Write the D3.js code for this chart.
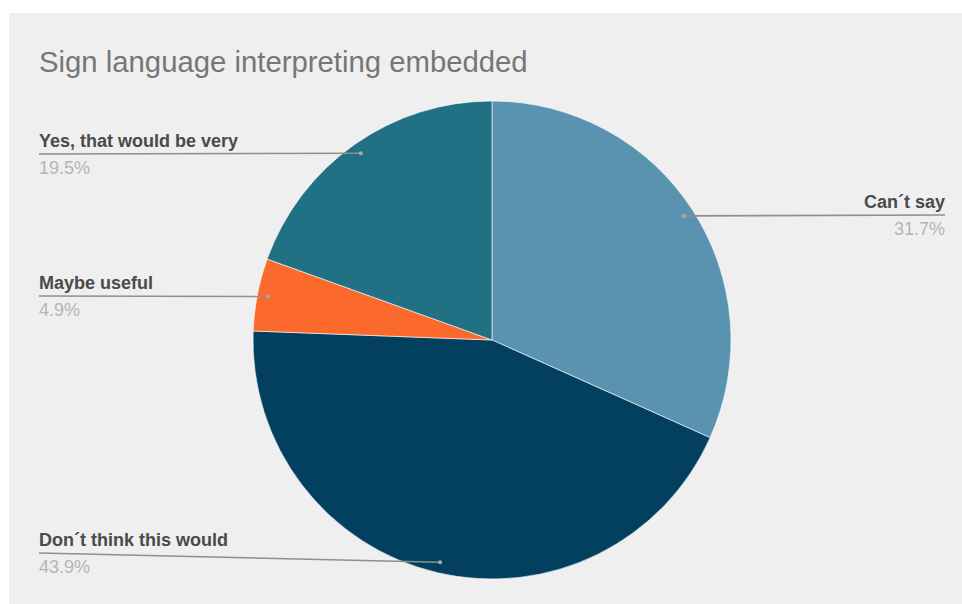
<!DOCTYPE html>
<html>
<head>
<meta charset="utf-8">
<script src="https://cdn.jsdelivr.net/npm/d3@7"></script>
<style>
  html, body { margin: 0; padding: 0; background: #ffffff; }
  svg { display: block; }
  text { font-family: Arial, "Liberation Sans", sans-serif; }
</style>
</head>
<body>
<svg id="chart" width="962" height="604"></svg>
<script>
// Survey answers, clockwise from 12 o'clock
const categories = ["Can\u00b4t say", "Don\u00b4t think this would", "Maybe useful", "Yes, that would be very"];
const shares = [31.7, 43.9, 4.9, 19.5];
const percentLabels = ["31.7%", "43.9%", "4.9%", "19.5%"];
const sliceColors = ["#5a93b0", "#03405f", "#fb6a2c", "#1f7183"];

const W = 962, H = 604;
const cx = 492, cy = 340, R = 239;

const svg = d3.select("#chart");

// panel background with a thin white margin at top/left
svg.append("rect").attr("x", 9).attr("y", 13).attr("width", W - 9).attr("height", H - 13).attr("fill", "#efefef");

svg.append("text")
  .attr("x", 39).attr("y", 72)
  .attr("font-size", 29.3)
  .attr("fill", "#767676")
  .text("Sign language interpreting embedded");

const data = categories.map((c, i) => ({ name: c, value: shares[i], label: percentLabels[i], color: sliceColors[i] }));

const pie = d3.pie().value(d => d.value).sort(null);
const arcs = pie(data);
const arc = d3.arc().innerRadius(0).outerRadius(R);
const dotArc = d3.arc().innerRadius(R * 0.955).outerRadius(R * 0.955);

const g = svg.append("g").attr("transform", `translate(${cx},${cy})`);
g.selectAll("path").data(arcs).join("path")
  .attr("d", arc)
  .attr("fill", d => d.data.color)
  .attr("stroke", "#ffffff")
  .attr("stroke-width", 0.6);

// leader layout: label anchor side, text x, line y at label end
const leaders = {
  "Can\u00b4t say":               { anchor: "end",   x: 945, lineY: 215 },
  "Don\u00b4t think this would":  { anchor: "start", x: 39,  lineY: 553 },
  "Maybe useful":                 { anchor: "start", x: 39,  lineY: 296 },
  "Yes, that would be very":      { anchor: "start", x: 39,  lineY: 154 }
};

const lbl = svg.append("g");
arcs.forEach(a => {
  const L = leaders[a.data.name];
  const [dx, dy] = dotArc.centroid(a);
  const px = cx + dx, py = cy + dy;
  lbl.append("line")
    .attr("x1", L.x).attr("y1", L.lineY)
    .attr("x2", px).attr("y2", py)
    .attr("stroke", "#8f8f8f").attr("stroke-width", 1.6);
  lbl.append("circle")
    .attr("cx", px).attr("cy", py).attr("r", 2)
    .attr("fill", "#a9a9a9");
  lbl.append("text")
    .attr("x", L.x).attr("y", L.lineY - 7)
    .attr("text-anchor", L.anchor)
    .attr("font-size", 18)
    .attr("font-weight", "bold")
    .attr("fill", "#4a4a4a")
    .text(a.data.name);
  lbl.append("text")
    .attr("x", L.x).attr("y", L.lineY + 19.5)
    .attr("text-anchor", L.anchor)
    .attr("font-size", 18)
    .attr("fill", "#b5b5b5")
    .text(a.data.label);
});
</script>
</body>
</html>
